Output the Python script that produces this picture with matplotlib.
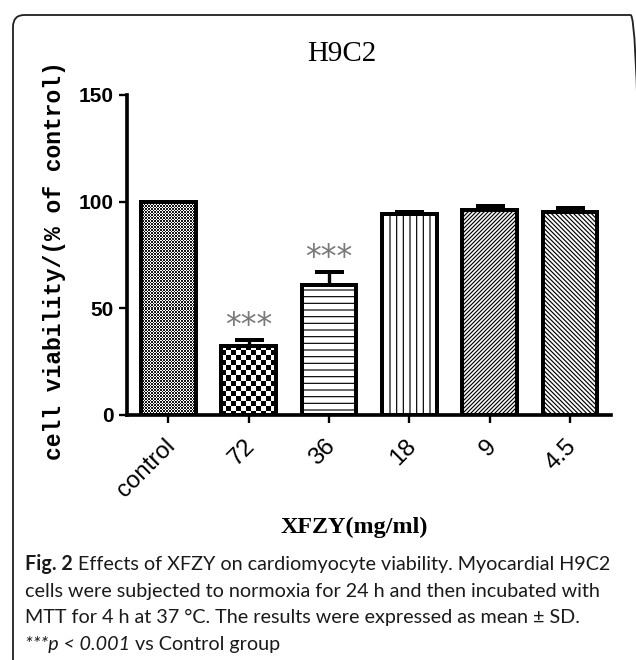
import numpy as np
import matplotlib
matplotlib.use("Agg")
import matplotlib.pyplot as plt
from matplotlib.patches import FancyBboxPatch
from matplotlib.transforms import ScaledTranslation

# data
groups = ["control", "72", "36", "18", "9", "4.5"]
viability = [100, 32.5, 61, 94, 96, 95]
sd = [0, 2.5, 6, 1.3, 2.0, 2.0]
stars = ["", "***", "***", "", "", ""]
hatches = [None, None, "---", "|||", "/" * 10, "\\" * 9]
textures = ["fine", "checker", None, None, None, None]

caption_lines = [
    [("Fig. 2", "bold", "normal"),
     (" Effects of XFZY on cardiomyocyte viability. Myocardial H9C2", "normal", "normal")],
    [("cells were subjected to normoxia for 24 h and then incubated with", "normal", "normal")],
    [("MTT for 4 h at 37 °C. The results were expressed as mean ± SD.", "normal", "normal")],
    [("***p < 0.001", "normal", "italic"), (" vs Control group", "normal", "normal")],
]

W, H, DPI = 636, 660, 120
plt.rcParams["hatch.linewidth"] = 0.7

fig = plt.figure(figsize=(W / DPI, H / DPI), dpi=DPI)


def fx(px):
    return px / W


def fy(py):
    return 1 - py / H


# axes box in pixels: x 127..611, y(150)=95, y(0)=415
ax_l, ax_r, ax_t, ax_b = 127, 611, 95, 415
ax = fig.add_axes([fx(ax_l), fy(ax_b), (ax_r - ax_l) / W, (ax_b - ax_t) / H])
xlim = (-0.515, 5.51)
ylim = (0, 150)

x = np.arange(len(groups))
bars = ax.bar(x, viability, width=0.68, color="white", edgecolor="black",
              linewidth=0, zorder=3)
for b, h in zip(bars, hatches):
    if h:
        b.set_hatch(h)
        b.set_linewidth(0.01)

# pixel textures for the two checkered bars
px_per_x = (ax_r - ax_l) / (xlim[1] - xlim[0])
px_per_y = (ax_b - ax_t) / (ylim[1] - ylim[0])
for b, kind in zip(bars, textures):
    if kind is None:
        continue
    nx = int(round(b.get_width() * px_per_x))
    ny = int(round(b.get_height() * px_per_y))
    i, j = np.indices((ny, nx))
    if kind == "fine":
        arr = ((i + j) % 3 == 0) | ((i - j) % 3 == 0)
        arr = arr.astype(float) * 0.9
    else:
        arr = ((i // 5 + j // 5) % 2).astype(float)
    x0 = b.get_x()
    ax.imshow(arr, cmap="gray_r", vmin=0, vmax=1, interpolation="nearest",
              extent=(x0, x0 + b.get_width(), 0, b.get_height()),
              aspect="auto", zorder=3.5)

# outlines on top
ax.bar(x, viability, width=0.68, fill=False, edgecolor="black",
       linewidth=2.4, zorder=4)

ax.errorbar(x[1:], viability[1:], yerr=[np.zeros(len(x) - 1), sd[1:]],
            fmt="none", ecolor="black", elinewidth=2.0, capsize=8.7,
            capthick=2.4, zorder=5)

for xi, v, e, s in zip(x, viability, sd, stars):
    if s:
        ax.annotate(s, (xi, v + e), xytext=(0, 9.0), textcoords="offset points",
                    ha="center", va="center", color="#7a7a7a", fontsize=19,
                    family="DejaVu Sans")

ax.set_xlim(*xlim)
ax.set_ylim(*ylim)
ax.spines["top"].set_visible(False)
ax.spines["right"].set_visible(False)
for side in ("left", "bottom"):
    ax.spines[side].set_linewidth(2.2)
ax.set_yticks([0, 50, 100, 150])
ax.tick_params(axis="y", direction="out", length=4.8, width=1.4, pad=3.0,
               labelsize=12.5)
for lab in ax.get_yticklabels():
    lab.set_fontfamily("Liberation Sans")
    lab.set_fontweight("bold")

ax.set_xticks(x)
ax.set_xticklabels(groups, rotation=45, ha="right", va="center",
                   rotation_mode="anchor", fontsize=14.5,
                   family="Liberation Sans")
ax.tick_params(axis="x", direction="out", length=4.8, width=1.4, pad=12.0)
shift = ScaledTranslation(3 / DPI, 0, fig.dpi_scale_trans)
for lab in ax.get_xticklabels():
    lab.set_transform(lab.get_transform() + shift)

# titles and labels
fig.text(fx(342), fy(54), "H9C2", ha="center", va="center", fontsize=17.4,
         family="Liberation Serif")
fig.text(fx(354), fy(527), "XFZY(mg/ml)", ha="center", va="center",
         fontsize=14.5, family="Liberation Serif", weight="bold")
fig.text(fx(55), fy(261), "cell viability/(% of control)", rotation=90,
         ha="center", va="center", fontsize=13.8, family="Liberation Mono",
         weight="bold")

# caption, sized to the reference line width
cap_font = "Lato"
renderer = fig.canvas.get_renderer()
probe = fig.text(0, 0, caption_lines[1][0][0], fontsize=10, family=cap_font)
cap_size = 10 * 574 / probe.get_window_extent(renderer).width
probe.remove()

for k, segs in enumerate(caption_lines):
    base = 570 + 26.7 * k
    xpos = 25
    for txt, weight, style in segs:
        t = fig.text(fx(xpos), fy(base), txt, fontsize=cap_size,
                     family=cap_font, weight=weight, style=style,
                     va="baseline", ha="left", color="#1a1a1a")
        xpos = t.get_window_extent(renderer).x1

# rounded frame, right and bottom sides run off the canvas
frame = FancyBboxPatch((fx(13), fy(690)), (642 - 13) / W, (690 - 15) / H,
                       boxstyle="round,pad=0,rounding_size=0.018",
                       transform=fig.transFigure, facecolor="none",
                       edgecolor="#222222", linewidth=1.1)
fig.patches.append(frame)

fig.savefig("out.png", dpi=DPI)
